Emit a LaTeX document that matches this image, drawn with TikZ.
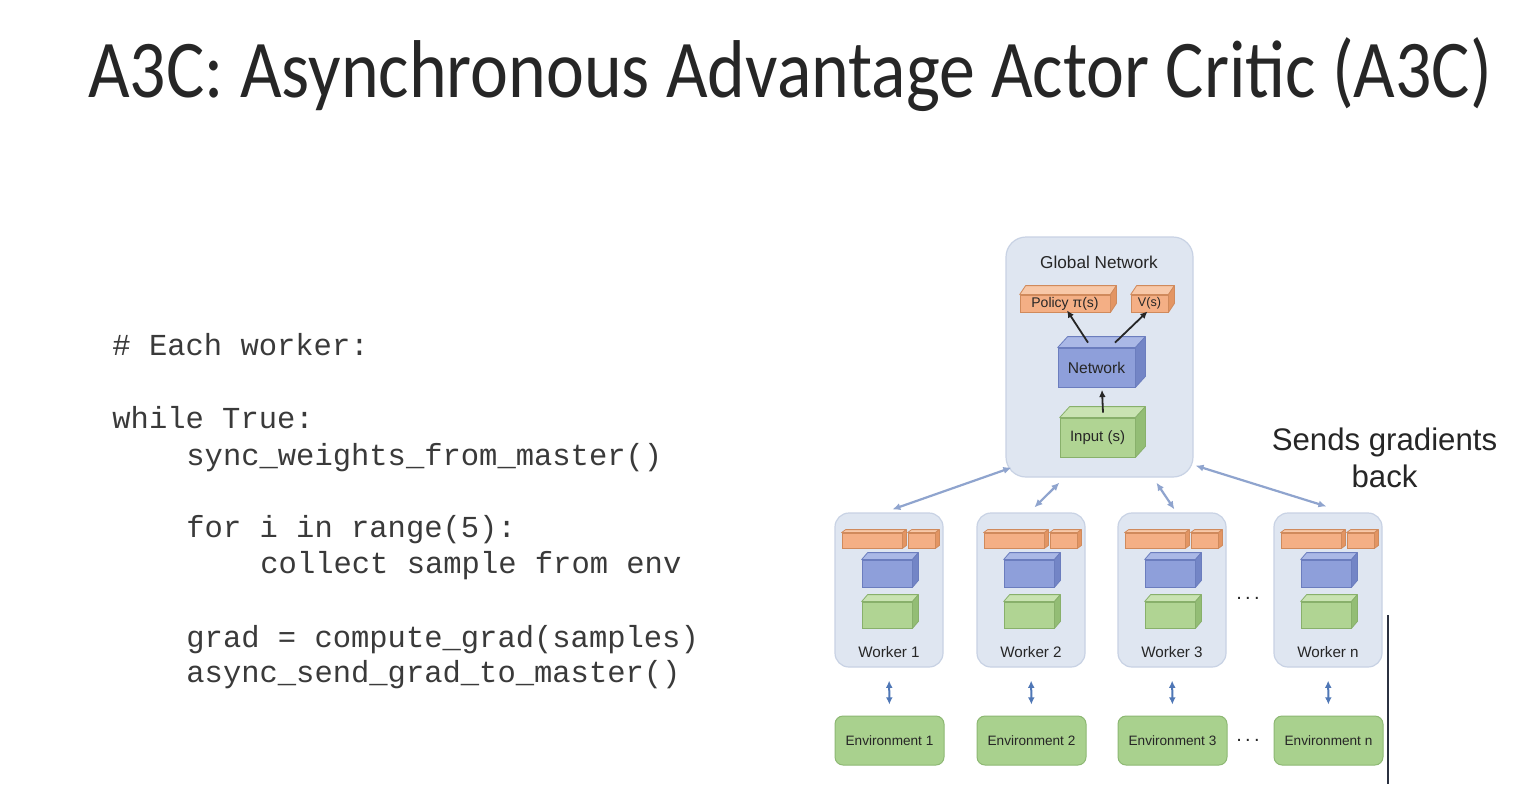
\documentclass[tikz,border=0pt]{standalone}
\usepackage{graphicx}
\usepackage{fontspec}
\setmainfont{Carlito}
\setsansfont{Liberation Sans}
\setmonofont{Liberation Mono}
\usetikzlibrary{arrows.meta}

\definecolor{ink}{HTML}{262626}
\definecolor{codeink}{HTML}{3A3A3A}
\definecolor{panelfill}{HTML}{DFE6F1}
\definecolor{paneledge}{HTML}{C8D2E4}
\definecolor{orfront}{HTML}{F4AF85}
\definecolor{ortop}{HTML}{F8C8A8}
\definecolor{orside}{HTML}{E39563}
\definecolor{oredge}{HTML}{D08A5C}
\definecolor{blfront}{HTML}{8E9FDA}
\definecolor{bltop}{HTML}{AAB8E6}
\definecolor{blside}{HTML}{7385C6}
\definecolor{bledge}{HTML}{6B7DBE}
\definecolor{grfront}{HTML}{B0D493}
\definecolor{grtop}{HTML}{C9E3B2}
\definecolor{grside}{HTML}{93BD75}
\definecolor{gredge}{HTML}{88B06B}
\definecolor{envfill}{HTML}{A9D18E}
\definecolor{envedge}{HTML}{8DB873}
\definecolor{linkblue}{HTML}{8FA4CE}
\definecolor{envblue}{HTML}{4F77B6}
\definecolor{divider}{HTML}{2B3140}

\tikzset{
  code/.style={anchor=base west, inner sep=0pt, text=codeink,
    font=\ttfamily\fontsize{15.25}{18}\selectfont},
  panel/.style={draw=paneledge, fill=panelfill, line width=0.6pt, inner sep=0pt},
  face/.style={line width=0.4pt, inner sep=0pt, text=ink, font=\sffamily},
  orface/.style={face, draw=oredge, fill=orfront},
  blface/.style={face, draw=bledge, fill=blfront},
  grface/.style={face, draw=gredge, fill=grfront},
  envbox/.style={draw=envedge, fill=envfill, line width=0.5pt, rounded corners=4pt,
    inner sep=0pt, minimum width=54.5pt, minimum height=24.5pt, text=ink,
    font=\sffamily\fontsize{6.8}{8}\selectfont},
  label/.style={inner sep=0pt, text=ink, font=\sffamily},
  gridlink/.style={draw=linkblue, line width=1.1pt,
    {Latex[length=4pt,width=3.6pt]}-{Latex[length=4pt,width=3.6pt]}},
  envlink/.style={draw=envblue, line width=1pt, shorten <=6.5pt, shorten >=5.5pt,
    {Latex[length=3.6pt,width=3.4pt]}-{Latex[length=3.6pt,width=3.4pt]}},
}

% top and side faces of a block whose front face is node #1
\newcommand\extrude[6]{%
  \filldraw[draw=#6, fill=#4, line width=0.4pt, line join=round]
    (#1.north west) -- ++(#2,-#3) -- ([shift={(#2,-#3)}]#1.north east)
    -- (#1.north east) -- cycle;
  \filldraw[draw=#6, fill=#5, line width=0.4pt, line join=round]
    (#1.north east) -- ([shift={(#2,-#3)}]#1.north east)
    -- ([shift={(#2,-#3)}]#1.south east) -- (#1.south east) -- cycle;}

% one worker with its environment; #1 id, #2 left edge, #3 label suffix
\newcommand\workerunit[3]{%
  \node[panel, rounded corners=7pt, minimum width=54pt, minimum height=77pt]
    (w#1) at (#2+54,590) {};
  \node[orface, minimum width=30pt, minimum height=7.5pt] (wp#1) at (#2+37,540.5) {};
  \extrude{wp#1}{4}{3}{ortop}{orside}{oredge}
  \node[orface, minimum width=13.5pt, minimum height=7.5pt] (wv#1) at (#2+86.5,540.5) {};
  \extrude{wv#1}{4}{3}{ortop}{orside}{oredge}
  \node[blface, minimum width=25pt, minimum height=13.5pt] (wn#1) at (#2+52,573.5) {};
  \extrude{wn#1}{6}{7}{bltop}{blside}{bledge}
  \node[grface, minimum width=25pt, minimum height=13pt] (wi#1) at (#2+52,615) {};
  \extrude{wi#1}{6}{7}{grtop}{grside}{gredge}
  \node[label, font=\sffamily\fontsize{7.6}{9}\selectfont] (wl#1) at (#2+54,652) {Worker #3};
  \node[envbox] (e#1) at (#2+54.5,740.5) {Environment #3};
  \draw[envlink] (w#1.south) -- (e#1.north);}

\begin{document}
\begin{tikzpicture}[x=0.5pt, y=-0.5pt]
  \useasboundingbox[fill=white] (0,0) rectangle (1514,784);

  % heading
  \node[anchor=base west, inner sep=0pt, text=ink, font=\fontsize{41}{48}\selectfont]
    (title) at (88,97) {\scalebox{0.876}[1]{A3C: Asynchronous Advantage Actor Critic (A3C)}};

  % worker pseudo-code
  \node[code] (c1) at (112,355) {\# Each worker:};
  \node[code] (c2) at (112,428) {while True:};
  \node[code] (c3) at (186,465) {sync\_weights\_from\_master()};
  \node[code] (c4) at (186,537) {for i in range(5):};
  \node[code] (c5) at (260,573) {collect sample from env};
  \node[code] (c6) at (186,647) {grad = compute\_grad(samples)};
  \node[code] (c7) at (186,682) {async\_send\_grad\_to\_master()};

  % global network
  \node[panel, rounded corners=10pt, minimum width=93.5pt, minimum height=120pt]
    (gnet) at (1099.5,357) {};
  \node[label, font=\sffamily\fontsize{8.6}{10}\selectfont] (gtitle) at (1099,262) {Global Network};
  \node[orface, minimum width=45pt, minimum height=8.5pt, font=\sffamily\fontsize{7}{8}\selectfont]
    (gpol) at (1065,303.5) {Policy π(s)};
  \extrude{gpol}{6}{9}{ortop}{orside}{oredge}
  \node[orface, minimum width=18.5pt, minimum height=8.5pt, font=\sffamily\fontsize{6.3}{8}\selectfont]
    (gval) at (1149.5,303.5) {V(s)};
  \extrude{gval}{6}{9}{ortop}{orside}{oredge}
  \node[blface, minimum width=38.5pt, minimum height=19.5pt, font=\sffamily\fontsize{7.8}{9}\selectfont]
    (gnn) at (1096.5,367.5) {Network};
  \extrude{gnn}{10}{11}{bltop}{blside}{bledge}
  \node[grface, minimum width=37.5pt, minimum height=19.5pt, font=\sffamily\fontsize{7.5}{9}\selectfont]
    (gin) at (1097.5,437.5) {Input (s)};
  \extrude{gin}{10}{11}{grtop}{grside}{gredge}

  \draw[-{Latex[length=3.6pt,width=3.4pt]}, line width=0.9pt, draw=ink]
    ([shift={(5.5,-5)}]gin.north) -- ([shift={(5.5,2.5)}]gnn.south);
  \draw[-{Latex[length=3.6pt,width=3.4pt]}, line width=0.9pt, draw=ink]
    ([shift={(-8.5,-5)}]gnn.north) -- ([shift={(2,-2)}]gpol.south);
  \draw[-{Latex[length=3.6pt,width=3.4pt]}, line width=0.9pt, draw=ink]
    ([shift={(18.5,-5)}]gnn.north) -- ([shift={(-2,-1)}]gval.south);

  % workers and environments
  \workerunit{1}{835}{1}
  \workerunit{2}{977}{2}
  \workerunit{3}{1118}{3}
  \workerunit{n}{1274}{n}

  \node[label, font=\sffamily\fontsize{10}{12}\selectfont] (dotsw) at (1248,598) {.\,.\,.};
  \node[label, font=\sffamily\fontsize{10}{12}\selectfont] (dotse) at (1248,740) {.\,.\,.};

  % links between the global network and the workers
  \draw[gridlink] ([shift={(6,-10)}]gnet.south west) -- ([shift={(58,-3)}]w1.north west);
  \draw[gridlink] ([shift={(54,5)}]gnet.south west) -- ([shift={(58,-5)}]w2.north west);
  \draw[gridlink] ([shift={(151,5)}]gnet.south west) -- ([shift={(57,-3)}]w3.north west);
  \draw[gridlink] ([shift={(2,-12)}]gnet.south east) -- ([shift={(53,-6)}]wn.north west);

  \node[align=center, inner sep=0pt, text=ink, font=\sffamily\fontsize{15.6}{18.5}\selectfont]
    (sends) at (1384.5,458) {Sends gradients\\back};

  % edge of the slide frame
  \draw[draw=divider, line width=1pt] (1388,615) -- (1388,784);
\end{tikzpicture}
\end{document}
